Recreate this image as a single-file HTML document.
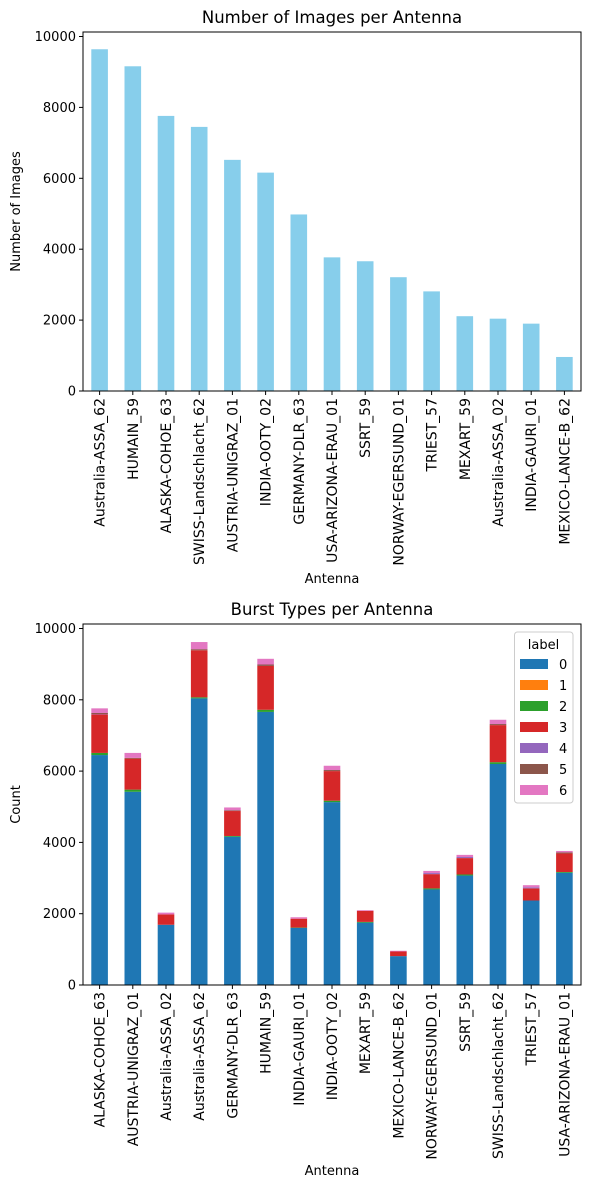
<!DOCTYPE html>
<html><head><meta charset="utf-8"><style>
body{margin:0;background:#fff;}
svg text{font-family:"DejaVu Sans","Liberation Sans",sans-serif;fill:#000;}
</style></head><body>
<svg id="s" width="589" height="1189" xmlns="http://www.w3.org/2000/svg"></svg>
<script>
const topCats=["Australia-ASSA_62","HUMAIN_59","ALASKA-COHOE_63","SWISS-Landschlacht_62","AUSTRIA-UNIGRAZ_01","INDIA-OOTY_02","GERMANY-DLR_63","USA-ARIZONA-ERAU_01","SSRT_59","NORWAY-EGERSUND_01","TRIEST_57","MEXART_59","Australia-ASSA_02","INDIA-GAURI_01","MEXICO-LANCE-B_62"];
const topVals=[9640,9160,7760,7450,6520,6160,4980,3770,3660,3210,2810,2110,2040,1900,960];
const yTicks=[0,2000,4000,6000,8000,10000];
const botCats=["ALASKA-COHOE_63","AUSTRIA-UNIGRAZ_01","Australia-ASSA_02","Australia-ASSA_62","GERMANY-DLR_63","HUMAIN_59","INDIA-GAURI_01","INDIA-OOTY_02","MEXART_59","MEXICO-LANCE-B_62","NORWAY-EGERSUND_01","SSRT_59","SWISS-Landschlacht_62","TRIEST_57","USA-ARIZONA-ERAU_01"];
const s0=[6450,5420,1690,8040,4160,7660,1600,5130,1750,810,2680,3070,6200,2370,3150];
const s1=[0,0,0,0,0,0,0,0,0,0,0,0,0,0,0];
const s2=[60,60,0,30,20,60,10,40,20,0,30,30,50,0,20];
const s3=[1080,870,290,1320,700,1230,250,830,310,130,400,460,1040,340,520];
const s4=[10,0,0,0,0,0,0,0,0,0,30,30,0,30,0];
const s5=[30,20,0,30,20,40,0,30,0,0,0,0,30,0,30];
const s6=[130,140,50,200,80,160,40,120,20,20,60,60,120,60,40];
const series=[s0,s1,s2,s3,s4,s5,s6];
const labels=["0","1","2","3","4","5","6"];
const colors=["#1f77b4","#ff7f0e","#2ca02c","#d62728","#9467bd","#8c564b","#e377c2"];

const svg=document.getElementById('s');
const NS="http://www.w3.org/2000/svg";
function el(t,a,txt){const e=document.createElementNS(NS,t);for(const k in a)e.setAttribute(k,a[k]);if(txt!==undefined)e.textContent=txt;svg.appendChild(e);return e;}
function v2p(v,T,B){return (B-T-4.5)*v/10000;}

function axes(L,R,T,B,title,ylab,cats,prefix){
  const n=cats.length,bw=(R-L)/n;
  const xc=i=>L+bw*(i+0.5);
  for(const t of yTicks){
    const yy=B-v2p(t,T,B);
    const l=el('line',{x1:L-4,x2:L,y1:yy,y2:yy,stroke:'#000'});
    
    const tx=el('text',{x:L-7,y:yy+4.5,'text-anchor':'end','font-size':'13'},String(t));
    
  }
  cats.forEach((c,i)=>{
    const x=xc(i);
    const l=el('line',{x1:x,x2:x,y1:B,y2:B+4,stroke:'#000'});
    
    const tx=el('text',{transform:`translate(${x+5},${B+7}) rotate(-90)`,'text-anchor':'end','font-size':'14'},c);
    
  });
  const t=el('text',{x:(L+R)/2,y:T-9,'text-anchor':'middle','font-size':'16.5'},title);
  
  const yl=el('text',{transform:`translate(${20},${(T+B)/2}) rotate(-90)`,'text-anchor':'middle','font-size':'13'},ylab);
  
  return {xc,bw};
}

(function(){
  const L=83,R=581,T=32,B=391;
  const a=axes(L,R,T,B,"Number of Images per Antenna","Number of Images",topCats,'top');
  topVals.forEach((v,i)=>{
    const h=v2p(v,T,B);
    const r=el('rect',{x:a.xc(i)-a.bw/4,y:B-h,width:a.bw/2,height:h,fill:'#87ceeb'});
    
  });
  const f=el('rect',{x:L,y:T,width:R-L,height:B-T,fill:'none',stroke:'#000','stroke-width':1});
  
  const xl=el('text',{x:(L+R)/2,y:583,'text-anchor':'middle','font-size':'13'},"Antenna");
  
})();

(function(){
  const L=83,R=581,T=624,B=985;
  const a=axes(L,R,T,B,"Burst Types per Antenna","Count",botCats,'bottom');
  botCats.forEach((c,i)=>{
    let acc=0;
    series.forEach((ser,k)=>{
      const v=ser[i]; if(!v){return;}
      const y0=B-v2p(acc,T,B), y1=B-v2p(acc+v,T,B);
      const r=el('rect',{x:a.xc(i)-a.bw/4,y:y1,width:a.bw/2,height:y0-y1,fill:colors[k]});
      
      acc+=v;
    });
  });
  const f=el('rect',{x:L,y:T,width:R-L,height:B-T,fill:'none',stroke:'#000','stroke-width':1});
  
  const xl=el('text',{x:(L+R)/2,y:1175,'text-anchor':'middle','font-size':'13'},"Antenna");
  
  const lg=el('rect',{x:514.5,y:632,width:58.5,height:171,rx:3,fill:'#fff','fill-opacity':0.8,stroke:'#ccc'});
  
  const lt=el('text',{x:543.5,y:649,'text-anchor':'middle','font-size':'13'},"label");
  
  labels.forEach((lab,k)=>{
    const yy=659+k*21;
    const sw=el('rect',{x:520,y:yy,width:28,height:10,fill:colors[k]});
    
    const tx=el('text',{x:559,y:yy+10,'font-size':'13'},lab);
    
  });
})();
</script>
</body></html>
